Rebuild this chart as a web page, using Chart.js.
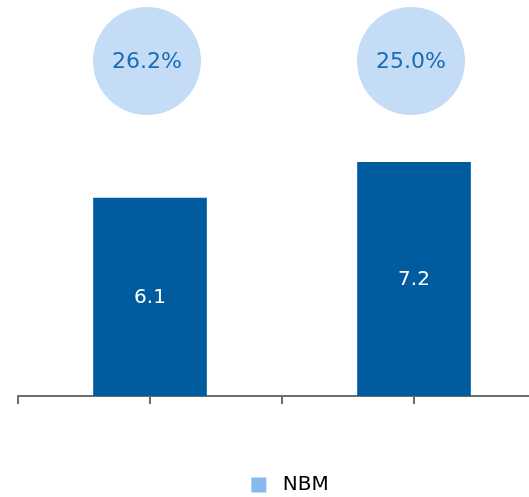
<!DOCTYPE html>
<html>
<head>
<meta charset="utf-8">
<script src="https://cdn.jsdelivr.net/npm/chart.js@4"></script>
<style>
  html, body { margin: 0; padding: 0; background: #fff; overflow: hidden; }
  #wrap { width: 529px; height: 497px; overflow: hidden; }
  #box { width: 560px; height: 497px; }
</style>
</head>
<body>
<div id="wrap"><div id="box"><canvas id="chart"></canvas></div></div>
<script>
// values
var positions = [1, 3];
var nbmValues = [6.1, 7.2];
var shareValues = ['26.2%', '25.0%'];
var seriesName = 'NBM';

var barColor = '#005c9e';
var legendColor = '#88b9ec';
var bubbleColor = '#c5dcf6';

// circles with the share above each bar
var sharePlugin = {
    id: 'shares',
    afterLayout: function (chart) {
        // nudge the legend a bit right and down, like the original
        chart.legend.left += 8;
        chart.legend.right += 8;
        chart.legend.top += 8;
        chart.legend.bottom += 8;
    },
    afterDatasetsDraw: function (chart) {
        var ctx = chart.ctx;
        var meta = chart.getDatasetMeta(0);
        ctx.save();
        ctx.textAlign = 'center';
        ctx.textBaseline = 'middle';
        meta.data.forEach(function (bar, i) {
            var cx = bar.x - 3;
            var cy = chart.chartArea.top + 61;
            ctx.beginPath();
            ctx.arc(cx, cy, 54, 0, Math.PI * 2);
            ctx.fillStyle = bubbleColor;
            ctx.fill();
            ctx.fillStyle = '#1a6cb4';
            ctx.font = '22px "DejaVu Sans", Verdana, sans-serif';
            ctx.fillText(shareValues[i], cx, cy + 1);
        });
        // value labels inside bars
        ctx.fillStyle = '#ffffff';
        ctx.font = '20px "DejaVu Sans", Verdana, sans-serif';
        meta.data.forEach(function (bar, i) {
            ctx.fillText(nbmValues[i].toFixed(1), bar.x, (bar.y + bar.base) / 2 + 1);
        });
        ctx.restore();
    }
};

new Chart(document.getElementById('chart').getContext('2d'), {
    type: 'bar',
    data: {
        datasets: [{
            label: seriesName,
            data: positions.map(function (p, i) { return { x: p, y: nbmValues[i] }; }),
            backgroundColor: barColor,
            barThickness: 113
        }]
    },
    options: {
        responsive: true,
        maintainAspectRatio: false,
        animation: false,
        layout: { padding: { left: 18, right: 14, top: 0, bottom: 0 } },
        plugins: {
            legend: {
                position: 'bottom',
                labels: {
                    font: { family: '"DejaVu Sans", Verdana, sans-serif', size: 20 },
                    color: '#000',
                    boxWidth: 15,
                    boxHeight: 15,
                    padding: 0,
                    generateLabels: function () {
                        return [{ text: ' ' + seriesName, fillStyle: legendColor, strokeStyle: legendColor, lineWidth: 0 }];
                    }
                },
                onClick: null
            },
            tooltip: { enabled: false }
        },
        scales: {
            x: {
                type: 'linear',
                min: 0,
                max: 4,
                offset: false,
                afterFit: function (scale) { scale.height = 71; },
                ticks: { display: false, stepSize: 1 },
                grid: { offset: false, drawOnChartArea: false, tickLength: 8, color: '#6e6e6e', lineWidth: 2 },
                border: { color: '#6e6e6e', width: 2 }
            },
            y: {
                display: false,
                min: 0,
                max: 12.2
            }
        }
    },
    plugins: [sharePlugin]
});
</script>
</body>
</html>
